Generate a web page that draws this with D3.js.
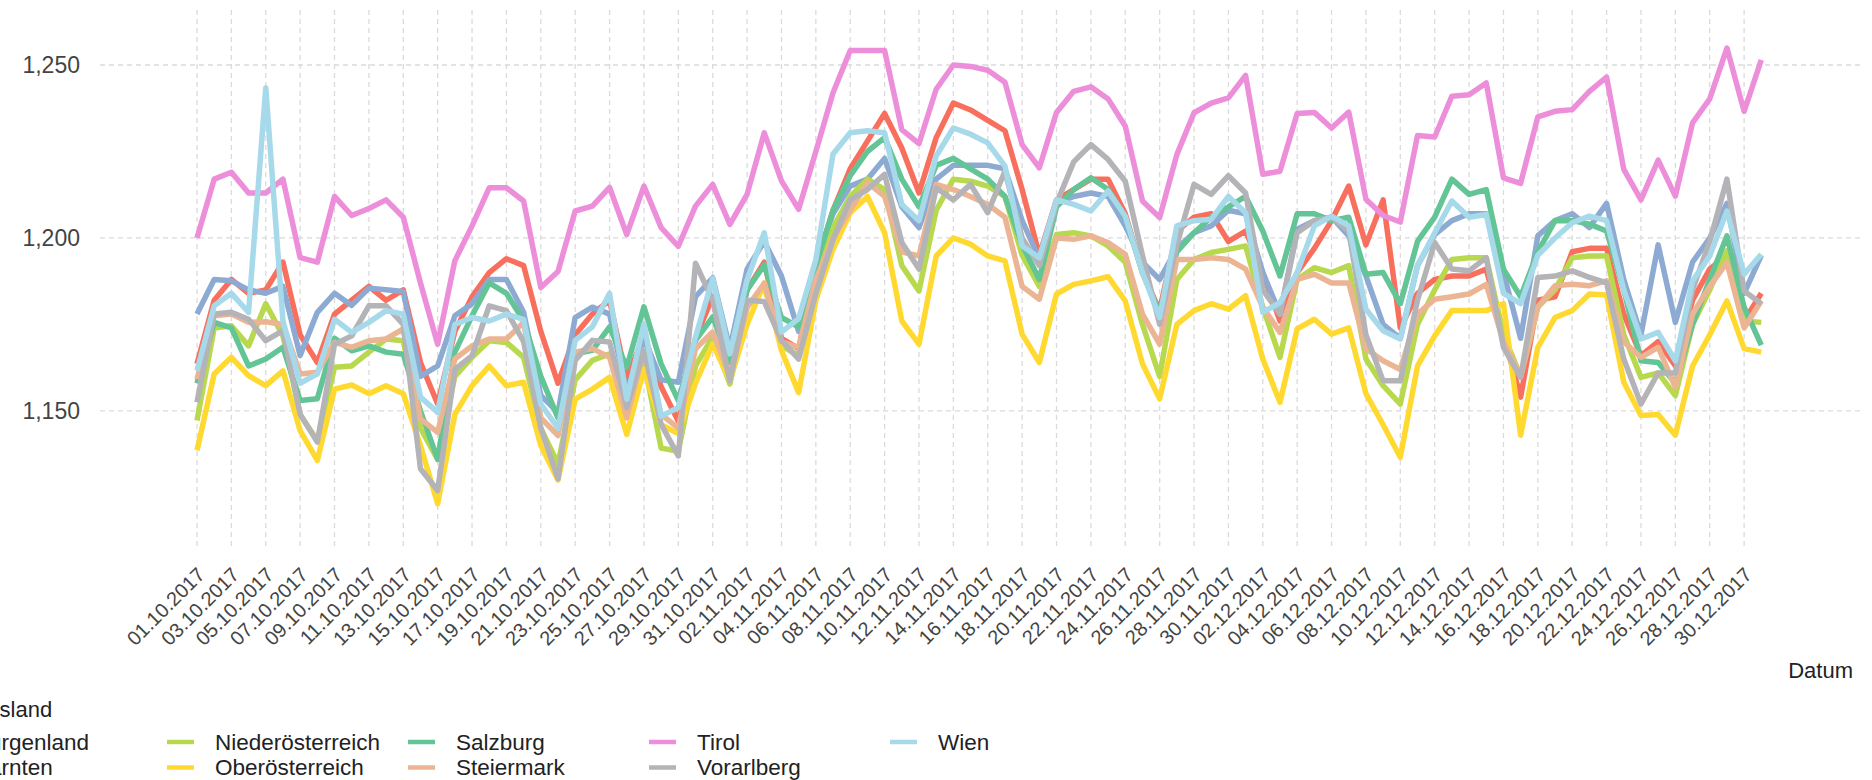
<!DOCTYPE html>
<html lang="de">
<head>
    <meta charset="utf-8" />
    <title>Bundesländer</title>
    <script src="https://d3js.org/d3.v7.min.js"></script>
    <style>
        body { margin: 0; background: #fff; }
        text { font-family: "Liberation Sans", Arial, sans-serif; }
        .grid line { stroke: #dcdadc; stroke-width: 1.3px; stroke-dasharray: 5,4; }
    </style>
</head>
<body>
<svg width="1872" height="780"></svg>
<script>
    // Bundesländer in legend order
    var bundeslaender = ["Burgenland", "Kärnten", "Niederösterreich", "Oberösterreich",
        "Salzburg", "Steiermark", "Tirol", "Vorarlberg", "Wien"];
    var farben = ["#f8705d", "#8daad2", "#b8d84e", "#ffd92f",
        "#63c496", "#ebb594", "#ec8eda", "#b4b4b8", "#a6d9ea"];

    var yTicks = [1150, 1200, 1250];

    // one value per day, 01.10.2017 - 31.12.2017
    var burgenland = [1163.6, 1182, 1188, 1184, 1185, 1193, 1172, 1164, 1178, 1182,
        1186, 1182, 1185, 1164, 1152, 1173, 1183, 1190, 1194, 1192,
        1173, 1158, 1172, 1178, 1182, 1159, 1172, 1157, 1147, 1171,
        1183, 1165, 1185, 1193, 1171, 1168, 1192, 1208, 1220, 1228,
        1236, 1226, 1213, 1229, 1239, 1237, 1234, 1231, 1214, 1195,
        1211, 1214, 1217, 1217, 1207, 1190, 1179, 1202, 1206, 1207,
        1199, 1202, 1190, 1176, 1190, 1197, 1205, 1215, 1198, 1211,
        1174, 1184, 1188, 1189, 1189, 1191, 1172, 1154, 1182, 1183,
        1196, 1197, 1197, 1178, 1166, 1170, 1163, 1182, 1191, 1195,
        1176, 1184];
    var kaernten = [1178, 1188, 1187.6, 1185, 1184, 1186, 1166, 1178.5, 1184, 1180.5,
        1185.5, 1185, 1184.5, 1160, 1163, 1177.5, 1181, 1188, 1188, 1178.5,
        1154.5, 1149.5, 1177, 1180, 1178, 1155.5, 1171, 1159, 1158.3, 1183,
        1188.5, 1168, 1191, 1199, 1189, 1173, 1193, 1207, 1215, 1217,
        1223, 1209, 1203, 1217, 1221, 1221, 1221, 1220, 1205, 1194,
        1210, 1212, 1213, 1212, 1203.5, 1193, 1188, 1197, 1201.5, 1203.5,
        1208, 1207, 1190, 1178, 1202.5, 1205, 1206, 1200.6, 1189, 1175,
        1171, 1192, 1201, 1205, 1207, 1207, 1190, 1171, 1200.6, 1205,
        1207, 1203, 1210, 1188, 1172, 1198, 1175.6, 1193, 1200, 1210,
        1184, 1195];
    var niederoesterreich = [1147.2, 1174, 1174.6, 1168.8, 1181, 1171.7, 1149, 1141.4, 1162.6, 1163,
        1167, 1170.8, 1170.3, 1145, 1136, 1160, 1165.5, 1170.3, 1169.8, 1165.5,
        1145, 1134.7, 1159, 1164.6, 1166.5, 1150, 1164, 1139.3, 1138.3, 1163,
        1171.4, 1157.8, 1180, 1186, 1168.8, 1166, 1188, 1203, 1212, 1217,
        1214, 1192, 1184.7, 1208, 1217, 1216.4, 1215, 1212, 1195, 1186,
        1201, 1201.5, 1200.6, 1197.7, 1193, 1175, 1160, 1188, 1193.8, 1195.8,
        1196.7, 1197.7, 1180, 1165.5, 1188, 1191.4, 1190, 1192, 1165, 1157.3,
        1152, 1175, 1185, 1193.8, 1194.3, 1194.3, 1172, 1160, 1180, 1185,
        1194.3, 1194.8, 1194.8, 1172, 1159.7, 1161, 1154.4, 1175, 1185, 1196.3,
        1176, 1175.6];
    var oberoesterreich = [1138.6, 1160.7, 1165.5, 1160.2, 1157.3, 1161.6, 1144.3, 1135.7, 1156.3, 1157.5,
        1155, 1157.3, 1155, 1140, 1123.2, 1149, 1157.3, 1163, 1157.3, 1158.3,
        1140, 1130, 1153.4, 1156.3, 1159.7, 1143.2, 1162.1, 1146, 1143.5, 1158,
        1169.4, 1158.7, 1175, 1187, 1167.5, 1155.3, 1182, 1196.7, 1207.3, 1212,
        1201.5, 1176, 1169.3, 1194.8, 1200, 1198.2, 1194.8, 1193.4, 1172.2, 1164,
        1183.8, 1186.6, 1187.6, 1188.8, 1181.8, 1163.6, 1153.5, 1175, 1179, 1181,
        1179.4, 1183.3, 1165, 1152.5, 1173.7, 1176.5, 1172.2, 1174, 1155, 1146,
        1136.6, 1163, 1171.7, 1179, 1179, 1179, 1181, 1143, 1168.4, 1177,
        1179, 1183.8, 1183.5, 1158.3, 1148.7, 1149, 1143, 1163, 1172, 1181.8,
        1168, 1167];
    var salzburg = [1158, 1175.6, 1174, 1163, 1165, 1168.4, 1153, 1153.5, 1171, 1167.4,
        1168.8, 1167, 1166.4, 1150, 1136, 1167, 1177.5, 1187, 1184, 1176,
        1160, 1148, 1166.5, 1167.5, 1174.3, 1162.6, 1180.1, 1163.6, 1153, 1170.4,
        1177.2, 1164, 1185, 1192.2, 1177, 1174.3, 1192, 1208, 1218, 1225,
        1229, 1217, 1209, 1221, 1223, 1220, 1217, 1212, 1198, 1188,
        1209, 1214, 1217.4, 1214, 1206, 1190, 1178.5, 1196, 1201.5, 1206,
        1209, 1212, 1202, 1189, 1207, 1207, 1205, 1206, 1189.5, 1190,
        1181, 1199, 1206, 1217, 1212.6, 1214, 1191, 1183, 1196, 1205,
        1205, 1204, 1202, 1185, 1164.5, 1164, 1158, 1175, 1188, 1200.6,
        1180, 1169];
    var steiermark = [1159.2, 1177.5, 1178, 1175.6, 1175.8, 1175, 1160.7, 1161.2, 1169.8, 1168.4,
        1170.3, 1170.8, 1173.7, 1147.7, 1143.8, 1165, 1168.8, 1170.8, 1170.8, 1175.6,
        1148, 1142.9, 1167, 1168, 1165.5, 1148, 1167.5, 1149, 1145, 1168,
        1172.8, 1160, 1180, 1186.9, 1170, 1168.4, 1188, 1200, 1208, 1216,
        1212, 1196, 1194.8, 1215.5, 1214, 1212, 1209.7, 1206, 1186, 1182.3,
        1200, 1199.6, 1200.6, 1198.7, 1195.3, 1178, 1169.3, 1193.8, 1193.8, 1194.3,
        1193.8, 1191, 1180, 1172.7, 1188, 1189.5, 1187, 1187, 1168, 1164.5,
        1162, 1178, 1182.3, 1183, 1183.8, 1186.6, 1170, 1160, 1180, 1186.2,
        1186.6, 1186.2, 1187.6, 1170, 1165.5, 1168.4, 1156.8, 1178, 1186, 1192.9,
        1174, 1181.8];
    var tirol = [1200, 1217, 1219, 1213, 1213, 1217, 1194.3, 1193, 1212, 1206.5,
        1208.5, 1211, 1206, 1187, 1169.3, 1193.4, 1203.5, 1214.5, 1214.5, 1210.7,
        1185.7, 1190.3, 1207.8, 1209.2, 1214.6, 1201, 1215, 1203, 1197.6, 1209.2,
        1215.5, 1203.9, 1212.6, 1230.4, 1216.5, 1208.3, 1225, 1242, 1254.2, 1254.2,
        1254.2, 1231.3, 1227.3, 1243, 1250, 1249.6, 1248.5, 1245, 1227, 1220.3,
        1236.3, 1242.4, 1243.7, 1240.2, 1232.3, 1210.7, 1205.9, 1224.1, 1236.2, 1239,
        1240.5, 1247, 1218.4, 1219.3, 1236, 1236.3, 1231.8, 1236.4, 1211.2, 1206.5,
        1204.6, 1229.6, 1229.2, 1241, 1241.4, 1244.8, 1217.4, 1215.8, 1235, 1236.6,
        1237.1, 1242.4, 1246.5, 1219.8, 1211, 1222.5, 1212.1, 1233.3, 1240.2, 1254.9,
        1236.6, 1251.5];
    var vorarlberg = [1152.5, 1178, 1178.5, 1176.5, 1170.3, 1173.2, 1149, 1141, 1169.3, 1171.7,
        1180.4, 1180.4, 1175, 1133.3, 1127, 1162, 1166, 1180.4, 1179, 1170,
        1145, 1130.4, 1164.6, 1170.4, 1169.9, 1151, 1167.5, 1146.1, 1137, 1192.7,
        1182, 1158.7, 1182, 1181.6, 1170.4, 1165, 1184, 1199.5, 1211, 1214,
        1218.4, 1198.7, 1191, 1214.5, 1211, 1215.5, 1207.3, 1219.3, 1200, 1192,
        1210, 1222, 1227, 1222.7, 1216.4, 1195, 1175, 1198, 1215.5, 1212.6,
        1218, 1213, 1185, 1178, 1201.5, 1205, 1206, 1202, 1172, 1158.7,
        1158.7, 1182, 1198.7, 1191, 1190.5, 1194.3, 1168.4, 1159.7, 1188.6, 1189,
        1190.5, 1188.6, 1187, 1165, 1152, 1161, 1161, 1185, 1199, 1217,
        1184.7, 1181];
    var wien = [1161.6, 1180.4, 1184, 1178.5, 1243.4, 1176, 1158, 1160.7, 1176.5, 1172.7,
        1175.6, 1179, 1178, 1154, 1149.6, 1175, 1177, 1176, 1178, 1176.5,
        1152, 1145, 1170.4, 1174.3, 1184, 1153.4, 1175.2, 1148.5, 1151, 1171.4,
        1188.3, 1166.5, 1187.9, 1201.5, 1172.8, 1176.7, 1193.7, 1224.3, 1230.4, 1231,
        1230.4, 1209.7, 1205, 1223.7, 1231.8, 1230, 1227.5, 1220.8, 1197.7, 1194.3,
        1211, 1209.7, 1207.8, 1213.6, 1206.3, 1190, 1177, 1203.5, 1205, 1205.4,
        1212, 1207.3, 1178.5, 1181.3, 1190, 1203.5, 1206.3, 1203.5, 1179.4, 1173.2,
        1170.8, 1192, 1201.5, 1210.7, 1206, 1206.8, 1184, 1181, 1195, 1200,
        1204.4, 1206.3, 1205, 1185, 1170.8, 1172.7, 1164.5, 1187.6, 1194.8, 1207.8,
        1189.5, 1195.3];

    var werte = [burgenland, kaernten, niederoesterreich, oberoesterreich,
        salzburg, steiermark, tirol, vorarlberg, wien];

    var dates = d3.utcDay.range(new Date(Date.UTC(2017, 9, 1)), new Date(Date.UTC(2018, 0, 1)));
    // labelled every second day
    var xTicks = dates.filter(function (d, i) { return i % 2 === 0 && i <= 90; });

    var svg = d3.select("svg");
    var panel = { left: 100, right: 1862, top: 10, bottom: 550 };

    var x = d3.scaleUtc()
        .domain([dates[0], dates[dates.length - 1]])
        .range([197, 1761.3]);

    var y = d3.scaleLinear()
        .domain([1109.8, 1265.9])
        .range([panel.bottom, panel.top]);

    var fmtDate = d3.utcFormat("%d.%m.%Y");

    //grid lines
    var grid = svg.append("g").attr("class", "grid");
    grid.selectAll(".vgrid")
        .data(xTicks)
        .enter().append("line")
            .attr("x1", function (d) { return x(d); })
            .attr("x2", function (d) { return x(d); })
            .attr("y1", panel.top)
            .attr("y2", panel.bottom);
    grid.selectAll(".hgrid")
        .data(yTicks)
        .enter().append("line")
            .attr("x1", panel.left)
            .attr("x2", panel.right)
            .attr("y1", function (d) { return y(d); })
            .attr("y2", function (d) { return y(d); });

    //y axis labels
    svg.append("g").selectAll("text")
        .data(yTicks)
        .enter().append("text")
            .attr("x", 80)
            .attr("y", function (d) { return y(d); })
            .attr("dy", "0.36em")
            .attr("text-anchor", "end")
            .attr("font-size", 23)
            .attr("fill", "#444")
            .text(d3.format(","));

    //x axis labels, rotated
    svg.append("g").selectAll("text")
        .data(xTicks)
        .enter().append("text")
            .attr("transform", function (d) { return "translate(" + (x(d) + 9) + ",576) rotate(-45)"; })
            .attr("text-anchor", "end")
            .attr("font-size", 20)
            .attr("fill", "#444")
            .text(fmtDate);

    svg.append("text")
        .attr("x", 1853)
        .attr("y", 678)
        .attr("text-anchor", "end")
        .attr("font-size", 22)
        .attr("fill", "#222")
        .text("Datum");

    //the lines
    var line = d3.line()
        .x(function (d, i) { return x(dates[i]); })
        .y(function (d) { return y(d); });

    svg.append("g").selectAll("path")
        .data(werte)
        .enter().append("path")
            .attr("d", line)
            .attr("fill", "none")
            .attr("stroke", function (d, i) { return farben[i]; })
            .attr("stroke-width", 5.5)
            .attr("stroke-linejoin", "round");

    //legend, two rows, filled by column
    svg.append("text")
        .attr("x", -64)
        .attr("y", 717)
        .attr("font-size", 22)
        .attr("fill", "#222")
        .text("Bundesland");

    var legend = svg.append("g").selectAll("g")
        .data(bundeslaender)
        .enter().append("g")
            .attr("transform", function (d, i) {
                return "translate(" + (-74 + Math.floor(i / 2) * 241) + "," + (742 + (i % 2) * 25.5) + ")";
            });
    legend.append("line")
        .attr("x1", 0).attr("x2", 27)
        .attr("stroke", function (d, i) { return farben[i]; })
        .attr("stroke-width", 4.5);
    legend.append("text")
        .attr("x", 48)
        .attr("dy", "0.35em")
        .attr("font-size", 22.5)
        .attr("fill", "#222")
        .text(function (d) { return d; });
</script>
</body>
</html>
